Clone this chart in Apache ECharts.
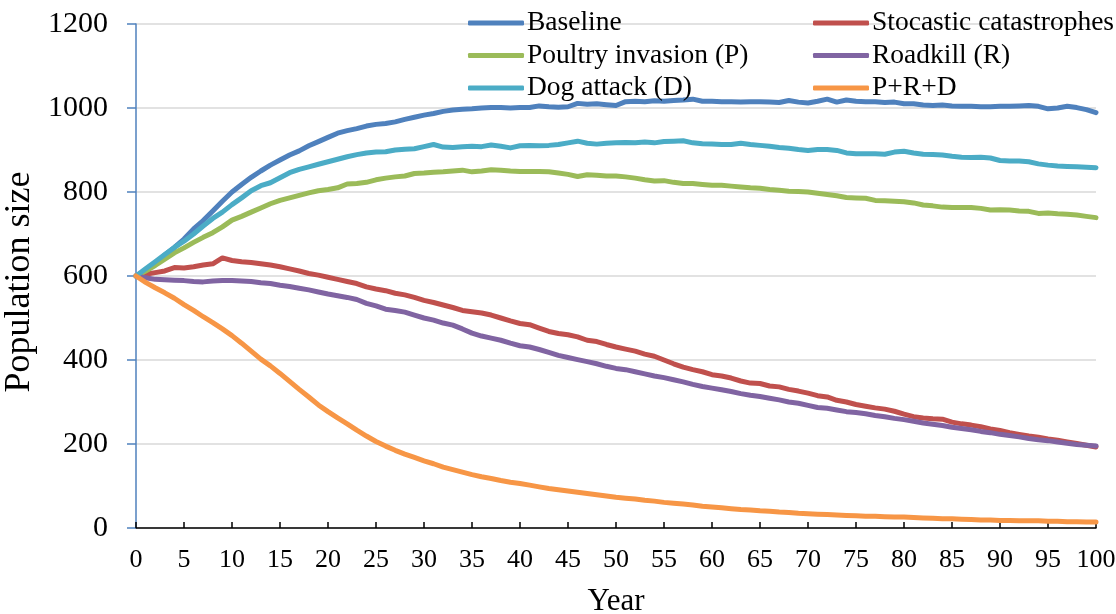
<!DOCTYPE html>
<html>
<head>
<meta charset="utf-8">
<script src="https://cdn.jsdelivr.net/npm/echarts/dist/echarts.min.js"></script>
<style>
html,body{margin:0;padding:0;background:#fff;}
#chart{width:1116px;height:614px;}
</style>
</head>
<body>
<div id="chart"></div>
<script>
const years = [0,1,2,3,4,5,6,7,8,9,10,11,12,13,14,15,16,17,18,19,20,21,22,23,24,25,26,27,28,29,30,31,32,33,34,35,36,37,38,39,40,41,42,43,44,45,46,47,48,49,50,51,52,53,54,55,56,57,58,59,60,61,62,63,64,65,66,67,68,69,70,71,72,73,74,75,76,77,78,79,80,81,82,83,84,85,86,87,88,89,90,91,92,93,94,95,96,97,98,99,100];

const seriesNames = ["Baseline","Stocastic catastrophes","Poultry invasion (P)","Roadkill (R)","Dog attack (D)","P+R+D"];

const baseline = [600,613,630,650,668,688,712,732,755,778,800,818,835,850,864,876,888,898,910,920,930,940,946,951,957,961,963,967,973,978,983,987,992,995,997,998,1000,1001,1001,1000,1001,1001,1005,1003,1002,1003,1011,1009,1010,1008,1006,1015,1016,1015,1017,1016,1018,1019,1021,1016,1016,1015,1015,1014,1015,1015,1014,1013,1018,1014,1012,1016,1021,1014,1019,1016,1015,1015,1013,1014,1010,1010,1007,1006,1007,1005,1004,1004,1003,1003,1004,1004,1005,1006,1004,998,1000,1004,1001,996,989];

const stochastic = [600,604,608,612,620,619,622,626,629,643,637,634,632,629,626,622,617,612,606,602,597,592,587,582,574,569,565,559,555,549,542,537,531,525,518,515,512,507,500,493,487,484,476,468,463,460,455,447,444,437,431,426,421,414,409,400,391,383,377,372,365,362,357,350,345,344,338,336,330,326,321,315,312,304,300,294,290,286,283,278,271,265,262,260,259,252,248,245,241,236,232,227,223,219,216,212,209,205,201,197,193];

const poultry = [600,612,625,640,655,667,680,692,703,717,733,742,752,762,772,780,786,792,798,803,806,810,819,820,823,829,833,836,838,844,845,847,848,850,852,848,850,853,852,850,849,849,849,848,845,842,837,841,840,838,838,836,833,829,826,827,823,820,820,818,816,816,814,812,810,809,806,804,802,801,800,797,794,791,787,786,785,780,779,778,777,774,769,767,764,763,763,763,761,757,758,757,755,754,749,750,748,747,745,742,739];

const roadkill = [600,596,592,591,590,589,587,586,588,589,589,588,587,584,582,578,575,571,567,562,557,553,549,544,535,529,521,518,514,507,500,495,488,483,474,464,457,452,447,440,434,431,425,418,411,406,401,396,391,385,380,377,372,367,362,358,353,348,342,337,333,329,325,320,316,313,309,305,300,297,292,287,285,281,277,275,272,268,265,261,258,254,250,247,244,240,237,234,230,227,223,220,217,213,210,208,205,202,199,197,195];

const dogAttack = [600,617,634,651,668,683,700,719,737,752,770,786,803,815,822,834,846,854,860,866,872,878,884,889,893,895,896,900,902,903,908,913,907,906,908,909,908,912,909,905,910,911,910,911,913,917,921,916,914,916,917,918,917,919,917,920,921,922,917,915,914,913,913,916,913,911,909,906,904,901,899,901,901,899,893,891,891,891,890,895,897,893,890,889,888,885,883,882,883,881,875,874,874,872,867,864,862,861,860,859,858];

const combinedPRD = [600,585,572,560,547,532,518,503,489,474,458,440,421,402,386,368,349,330,312,293,277,262,248,233,219,206,195,185,176,168,160,153,145,139,133,127,122,118,113,109,106,102,98,94,91,88,85,82,79,76,73,71,69,66,64,61,59,57,55,52,50,48,46,44,43,41,40,38,37,35,34,33,32,31,30,29,28,28,27,26,26,25,24,23,22,22,21,20,19,19,18,18,17,17,17,16,16,15,15,14,14];

const yTicks = [0,200,400,600,800,1000,1200];
const xTicks = [0,5,10,15,20,25,30,35,40,45,50,55,60,65,70,75,80,85,90,95,100];

const colors = ["#4F81BD","#C0504D","#9BBB59","#8064A2","#4BACC6","#F79646"];
const allValues = [baseline, stochastic, poultry, roadkill, dogAttack, combinedPRD];

const font = "'Liberation Serif', 'Times New Roman', serif";

const series = seriesNames.map((name, i) => ({
  name: name,
  type: 'line',
  data: years.map((y, k) => [y, allValues[i][k]]),
  showSymbol: false,
  symbol: 'none',
  lineStyle: { width: 5, color: colors[i], cap: 'round', join: 'round' },
  itemStyle: { color: colors[i] },
  z: 2 + i
}));

const legendCommon = {
  orient: 'vertical',
  icon: 'roundRect',
  itemWidth: 56,
  itemHeight: 5,
  itemGap: 4.5,
  padding: 0,
  textStyle: { fontFamily: font, fontSize: 27.5, color: '#000', lineHeight: 22, padding: [0,0,0,-2] }
};

const chart = echarts.init(document.getElementById('chart'));
chart.setOption({
  animation: false,
  backgroundColor: '#fff',
  color: colors,
  grid: { left: 136, right: 20, top: 24, bottom: 86, containLabel: false, outerBoundsMode: 'none' },
  legend: [
    Object.assign({}, legendCommon, { left: 468, top: 9, data: [seriesNames[0], seriesNames[2], seriesNames[4]] }),
    Object.assign({}, legendCommon, { left: 813, top: 9, data: [seriesNames[1], seriesNames[3], seriesNames[5]] })
  ],
  xAxis: {
    type: 'value',
    min: xTicks[0],
    max: xTicks[xTicks.length - 1],
    interval: 5,
    name: 'Year',
    nameLocation: 'middle',
    nameGap: 58,
    nameTextStyle: { fontFamily: font, fontSize: 31, color: '#000' },
    axisLine: { show: true, onZero: false, lineStyle: { color: '#000', width: 1.5 } },
    axisTick: { show: true, inside: true, length: 6, lineStyle: { color: '#000', width: 1.5 } },
    axisLabel: { fontFamily: font, fontSize: 26, color: '#000', margin: 19, formatter: v => String(v) },
    splitLine: { show: false }
  },
  yAxis: {
    type: 'value',
    min: yTicks[0],
    max: yTicks[yTicks.length - 1],
    interval: 200,
    name: 'Population size',
    nameLocation: 'middle',
    nameGap: 92,
    nameTextStyle: { fontFamily: font, fontSize: 36, color: '#000', padding: [0, 12, 0, 0] },
    axisLine: { show: true, lineStyle: { color: '#4F81BD', width: 1.5 } },
    axisTick: { show: true, inside: false, length: 9, lineStyle: { color: '#4F81BD', width: 1.5 } },
    axisLabel: { fontFamily: font, fontSize: 30, color: '#000', margin: 28, formatter: v => String(v) },
    splitLine: { show: true, lineStyle: { color: '#D9D9D9', width: 1.5 } }
  },
  series: series
});
</script>
</body>
</html>
